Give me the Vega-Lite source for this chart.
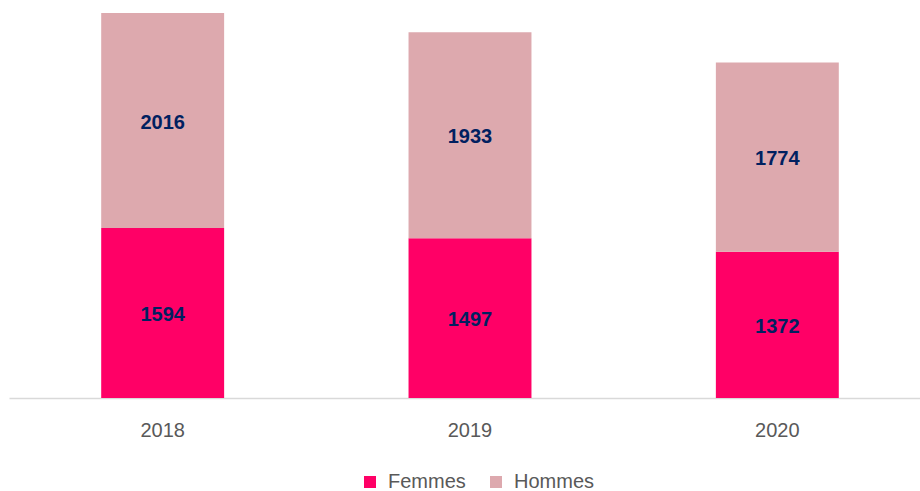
{
  "$schema": "https://vega.github.io/schema/vega-lite/v6.json",
  "autosize": "none",
  "width": 922,
  "height": 398,
  "padding": {"left": 9, "top": 0, "right": 0, "bottom": 93},
  "background": "white",
  "config": {"view": {"stroke": null}, "font": "Liberation Sans"},
  "data": {"values": [
    {"annee": "2018", "sexe": "Femmes", "valeur": 1594},
    {"annee": "2018", "sexe": "Hommes", "valeur": 2016},
    {"annee": "2019", "sexe": "Femmes", "valeur": 1497},
    {"annee": "2019", "sexe": "Hommes", "valeur": 1933},
    {"annee": "2020", "sexe": "Femmes", "valeur": 1372},
    {"annee": "2020", "sexe": "Hommes", "valeur": 1774}
  ]},
  "layer": [
    {"mark": {"type": "bar"},
     "encoding": {
      "x": {"field": "annee", "type": "nominal",
        "scale": {"paddingInner": 0.6, "paddingOuter": 0.3},
        "axis": {"title": null, "labelAngle": 0, "ticks": false, "domainColor": "#D9D9D9", "domainWidth": 1.5, "labelColor": "#595959", "labelFontSize": 20, "labelPadding": 22, "labelFont": "Liberation Sans"}},
      "y": {"field": "valeur", "type": "quantitative", "stack": "zero",
        "scale": {"domain": [0, 3732], "nice": false}, "axis": null},
      "order": {"field": "sexe"},
      "color": {"field": "sexe", "type": "nominal",
        "scale": {"domain": ["Femmes", "Hommes"], "range": ["#FF0066", "#DDA9AE"]},
        "legend": {"title": null, "orient": "none", "legendX": 351, "legendY": 472, "direction": "horizontal", "symbolType": "square", "symbolSize": 144, "symbolStrokeWidth": 0, "labelFontSize": 20, "labelColor": "#595959", "columnPadding": 20, "labelOffset": 8, "padding": 0}}}},
    {"transform": [
      {"stack": "valeur", "groupby": ["annee"], "sort": [{"field": "sexe"}], "as": ["v0", "v1"]},
      {"calculate": "(datum.v0 + datum.v1) / 2", "as": "milieu"}
     ],
     "mark": {"type": "text", "fontSize": 20, "fontWeight": "bold", "color": "#002060", "dy": 2},
     "encoding": {
      "x": {"field": "annee", "type": "nominal"},
      "y": {"field": "milieu", "type": "quantitative", "scale": {"domain": [0, 3732], "nice": false}},
      "text": {"field": "valeur", "type": "quantitative"}}}
  ]
}
